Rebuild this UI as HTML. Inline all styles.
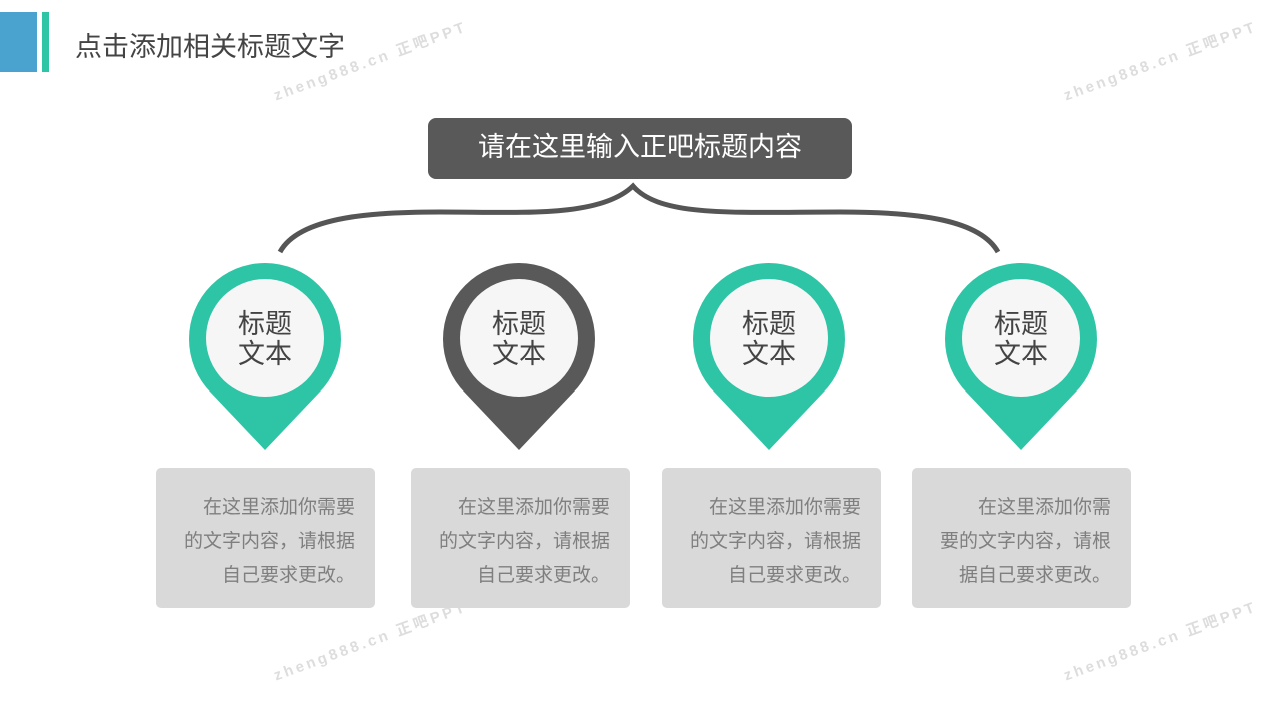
<!DOCTYPE html>
<html><head><meta charset="utf-8"><style>
body{margin:0;width:1280px;height:720px;background:#fff;overflow:hidden;position:relative;font-family:"Liberation Sans","Noto Sans CJK SC",sans-serif}
.abs{position:absolute}
.box{position:absolute;top:468px;width:219px;height:140px;background:#d9d9d9;border-radius:5px;color:#7f7f7f;font-size:19px;line-height:34px;text-align:right;box-sizing:border-box;padding:23px 20px 0 0}
.wm{position:absolute;color:#ddd;font-size:15px;font-weight:bold;letter-spacing:3px;transform:rotate(-20deg);white-space:nowrap}
</style></head><body>
<div class="abs" style="left:0;top:12px;width:37px;height:60px;background:#4aa3cf"></div>
<div class="abs" style="left:42px;top:12px;width:7px;height:60px;background:#2ec4a6"></div>
<div class="abs" style="left:75px;top:25px;font-size:27px;color:#444">点击添加相关标题文字</div>
<div class="wm" style="left:268px;top:50px">zheng888.cn 正吧PPT</div>
<div class="wm" style="left:1058px;top:50px">zheng888.cn 正吧PPT</div>
<div class="wm" style="left:268px;top:630px">zheng888.cn 正吧PPT</div>
<div class="wm" style="left:1058px;top:630px">zheng888.cn 正吧PPT</div>
<div class="abs" style="left:428px;top:118px;width:424px;height:61px;background:#595959;border-radius:8px;color:#fff;font-size:27px;line-height:58px;text-align:center">请在这里输入正吧标题内容</div>
<svg class="abs" style="left:0;top:0" width="1280" height="720">
<path d="M280,252 C300,215 380,212 440,212 C520,212 600,218 633,186 C660,218 740,212 840,212 C920,212 980,220 998,252" fill="none" stroke="#555" stroke-width="5"/>
<g fill="#2ec4a6"><circle cx="265" cy="339" r="76"/><polygon points="209,391 265,450 321,391"/></g>
<g fill="#595959"><circle cx="519" cy="339" r="76"/><polygon points="463,391 519,450 575,391"/></g>
<g fill="#2ec4a6"><circle cx="769" cy="339" r="76"/><polygon points="713,391 769,450 825,391"/></g>
<g fill="#2ec4a6"><circle cx="1021" cy="339" r="76"/><polygon points="965,391 1021,450 1077,391"/></g>
<g fill="#f6f6f6"><circle cx="265" cy="338" r="59"/><circle cx="519" cy="338" r="59"/><circle cx="769" cy="338" r="59"/><circle cx="1021" cy="338" r="59"/></g>
<g font-family="Liberation Sans,Noto Sans CJK SC,sans-serif" font-size="27" fill="#444" text-anchor="middle">
<text x="265" y="333">标题</text><text x="265" y="363">文本</text>
<text x="519" y="333">标题</text><text x="519" y="363">文本</text>
<text x="769" y="333">标题</text><text x="769" y="363">文本</text>
<text x="1021" y="333">标题</text><text x="1021" y="363">文本</text>
</g>
</svg>
<div class="box" style="left:156px">在这里添加你需要<br>的文字内容，请根据<br>自己要求更改。</div>
<div class="box" style="left:411px">在这里添加你需要<br>的文字内容，请根据<br>自己要求更改。</div>
<div class="box" style="left:662px">在这里添加你需要<br>的文字内容，请根据<br>自己要求更改。</div>
<div class="box" style="left:912px">在这里添加你需<br>要的文字内容，请根<br>据自己要求更改。</div>
</body></html>
